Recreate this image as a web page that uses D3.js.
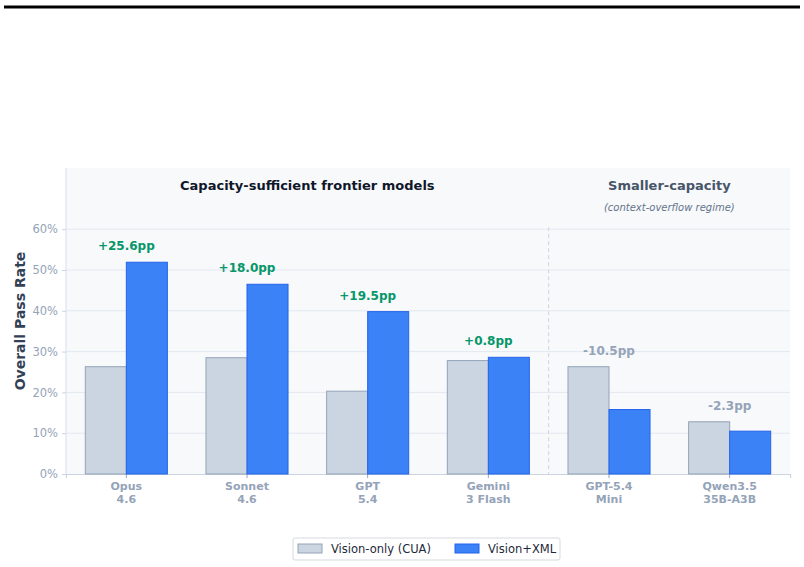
<!DOCTYPE html>
<html>
<head>
<meta charset="utf-8">
<script src="https://cdn.jsdelivr.net/npm/d3@7"></script>
<style>
  body { margin: 0; background: #fff; }
  svg { display: block; font-family: "DejaVu Sans", sans-serif; }
</style>
</head>
<body>
<div id="chart"></div>
<script>
const models = ["Opus\n4.6", "Sonnet\n4.6", "GPT\n5.4", "Gemini\n3 Flash", "GPT-5.4\nMini", "Qwen3.5\n35B-A3B"];
const visionOnly = [26.3, 28.5, 20.3, 27.8, 26.3, 12.8];
const visionXml = [51.9, 46.5, 39.8, 28.6, 15.8, 10.5];
const deltas = ["+25.6pp", "+18.0pp", "+19.5pp", "+0.8pp", "-10.5pp", "-2.3pp"];
const yTicks = [0, 10, 20, 30, 40, 50, 60];
const seriesNames = ["Vision-only (CUA)", "Vision+XML"];

const width = 804;
const height = 567;
const margin = { top: 168, right: 14, bottom: 93, left: 66 };

const svg = d3
  .select("#chart")
  .append("svg")
  .attr("width", width)
  .attr("height", height);

// top rule
svg.append("line")
  .attr("x1", 4).attr("x2", 800)
  .attr("y1", 7).attr("y2", 7)
  .attr("stroke", "#000")
  .attr("stroke-width", 3);

const x = d3
  .scaleBand()
  .domain(models)
  .range([margin.left, width - margin.right])
  .padding(0);

const y = d3
  .scaleLinear()
  .domain([0, 75])
  .range([height - margin.bottom, margin.top]);

const barW = x.bandwidth() * 0.34;
const cx = (d) => x(d) + x.bandwidth() / 2;

// plot background
svg.append("rect")
  .attr("x", margin.left)
  .attr("y", margin.top)
  .attr("width", width - margin.right - margin.left)
  .attr("height", y(0) - margin.top)
  .attr("fill", "#f8f9fb");

// grid
svg.append("g")
  .selectAll("line")
  .data(yTicks.slice(1))
  .join("line")
  .attr("x1", margin.left)
  .attr("x2", width - margin.right)
  .attr("y1", (d) => y(d))
  .attr("y2", (d) => y(d))
  .attr("stroke", "#e2e8f0")
  .attr("stroke-width", 1);

// separator
const sepX = x(models[4]);
svg.append("line")
  .attr("x1", sepX).attr("x2", sepX)
  .attr("y1", y(60) - 2).attr("y2", y(0))
  .attr("stroke", "#cbd5e1")
  .attr("stroke-width", 1)
  .attr("stroke-dasharray", "4,3");

// left spine
svg.append("line")
  .attr("x1", margin.left).attr("x2", margin.left)
  .attr("y1", margin.top).attr("y2", y(0))
  .attr("stroke", "#e2e8f0")
  .attr("stroke-width", 1.5);

// y axis
const yAxis = svg.append("g")
  .attr("transform", `translate(${margin.left},0)`)
  .call(d3.axisLeft(y).tickValues(yTicks).tickFormat((d) => d + "%").tickSize(4).tickPadding(4));
yAxis.select(".domain").remove();
yAxis.selectAll(".tick line").attr("stroke", "#cbd5e1");
yAxis.selectAll(".tick text")
  .attr("fill", "#94a3b8")
  .attr("font-size", 11.5)
  .attr("font-family", "DejaVu Sans");

// x axis
const xAxis = svg.append("g")
  .attr("transform", `translate(0,${y(0)})`)
  .call(d3.axisBottom(x).tickSize(4).tickFormat(""));
xAxis.select(".domain").attr("stroke", "#cbd5e1").attr("stroke-width", 1.2);
xAxis.selectAll(".tick line").attr("stroke", "#94a3b8");

// two-line category labels, one text per line
const labelLines = models.flatMap((m) => m.split("\n").map((line, i) => ({ m, line, i })));
svg.append("g")
  .selectAll("text")
  .data(labelLines)
  .join("text")
  .attr("x", (d) => cx(d.m))
  .attr("y", (d) => y(0) + 16 + d.i * 12.8)
  .attr("text-anchor", "middle")
  .attr("fill", "#94a3b8")
  .attr("font-size", 11)
  .attr("font-weight", "bold")
  .text((d) => d.line);

// bars
const bars = svg.append("g");
bars.selectAll(".b0")
  .data(models)
  .join("rect")
  .attr("class", "b0")
  .attr("x", (d) => cx(d) - barW)
  .attr("y", (d, i) => y(visionOnly[i]))
  .attr("width", barW)
  .attr("height", (d, i) => y(0) - y(visionOnly[i]))
  .attr("fill", "#cbd5e1")
  .attr("stroke", "#94a3b8")
  .attr("stroke-width", 1);

bars.selectAll(".b1")
  .data(models)
  .join("rect")
  .attr("class", "b1")
  .attr("x", (d) => cx(d))
  .attr("y", (d, i) => y(visionXml[i]))
  .attr("width", barW)
  .attr("height", (d, i) => y(0) - y(visionXml[i]))
  .attr("fill", "#3b82f6")
  .attr("stroke", "#2563eb")
  .attr("stroke-width", 1);

// delta labels
svg.append("g")
  .selectAll("text")
  .data(models)
  .join("text")
  .attr("x", cx)
  .attr("y", (d, i) => y(Math.max(visionOnly[i], visionXml[i])) - 12)
  .attr("text-anchor", "middle")
  .attr("font-size", 12)
  .attr("font-weight", "bold")
  .attr("fill", (d, i) => (deltas[i].startsWith("+") ? "#059669" : "#94a3b8"))
  .text((d, i) => deltas[i]);

// section titles
svg.append("text")
  .attr("x", (margin.left + sepX) / 2)
  .attr("y", 190)
  .attr("text-anchor", "middle")
  .attr("font-size", 13)
  .attr("font-weight", "bold")
  .attr("fill", "#0f172a")
  .text("Capacity-sufficient frontier models");

svg.append("text")
  .attr("x", (sepX + width - margin.right) / 2)
  .attr("y", 190)
  .attr("text-anchor", "middle")
  .attr("font-size", 13)
  .attr("font-weight", "bold")
  .attr("fill", "#475569")
  .text("Smaller-capacity");

svg.append("text")
  .attr("x", (sepX + width - margin.right) / 2)
  .attr("y", 211)
  .attr("text-anchor", "middle")
  .attr("font-size", 10)
  .attr("font-style", "italic")
  .attr("fill", "#64748b")
  .text("(context-overflow regime)");

// y label
svg.append("text")
  .attr("transform", `translate(25,${(margin.top + y(0)) / 2}) rotate(-90)`)
  .attr("text-anchor", "middle")
  .attr("font-size", 14)
  .attr("font-weight", "bold")
  .attr("fill", "#334155")
  .text("Overall Pass Rate");

// legend
const legend = svg.append("g").attr("transform", "translate(293,538)");
legend.append("rect")
  .attr("width", 267).attr("height", 22).attr("rx", 2)
  .attr("fill", "#fff").attr("stroke", "#d6d9de");
const items = legend.selectAll("g")
  .data(seriesNames)
  .join("g")
  .attr("transform", (d, i) => `translate(${i === 0 ? 5 : 162},0)`);
items.append("rect")
  .attr("y", 6).attr("width", 24).attr("height", 9)
  .attr("fill", (d, i) => (i === 0 ? "#cbd5e1" : "#3b82f6"))
  .attr("stroke", (d, i) => (i === 0 ? "#94a3b8" : "#2563eb"));
items.append("text")
  .attr("x", 33).attr("y", 15)
  .attr("font-size", 11.5)
  .attr("fill", "#1e293b")
  .text((d) => d);
</script>
</body>
</html>
